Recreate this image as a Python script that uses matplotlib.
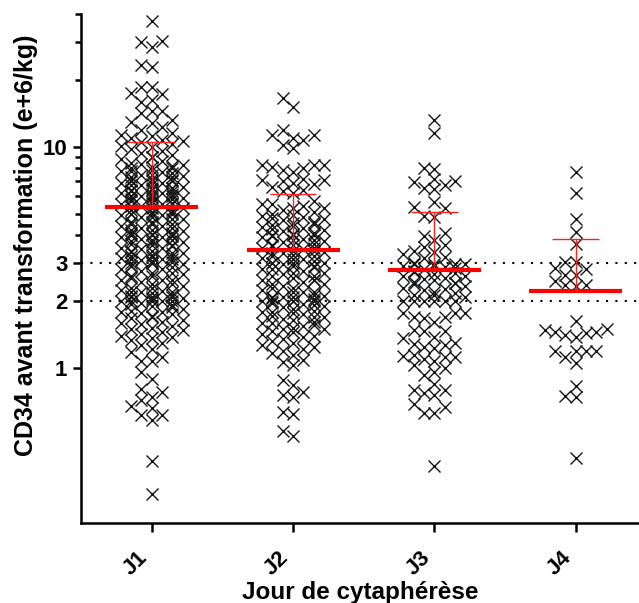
import numpy as np
import matplotlib
matplotlib.use('Agg')
import matplotlib.pyplot as plt
from matplotlib.ticker import FixedLocator, NullFormatter

plt.rcParams['font.family'] = ['Liberation Sans', 'DejaVu Sans']

categories = ['J1', 'J2', 'J3', 'J4']

j1 = [37.3, 30.2, 28.4, 30.0, 23.5, 23.1, 18.7, 18.6, 17.3, 17.5, 16.0, 16.3, 14.5, 14.6, 14.3, 13.2, 13.0, 12.9,
      12.3, 11.9, 11.6, 11.3, 11.0, 10.8, 10.5, 10.3, 10.1, 10.0, 10.6, 11.2,
      9.8, 9.6, 9.4, 9.2, 9.0, 9.0, 8.8, 8.6, 8.5, 8.4, 8.3, 8.2, 8.1, 8.0, 8.0,
      7.9, 7.8, 7.8, 7.7, 7.6, 7.5, 7.5, 7.4, 7.3, 7.3, 7.2, 7.1, 7.1, 7.0, 7.0, 7.0, 6.9, 6.9, 6.8, 6.7, 6.7, 6.6,
      6.5, 6.5, 6.5, 6.4, 6.4, 6.3, 6.3, 6.2, 6.2, 6.1, 6.1, 6.0, 6.0, 6.0, 6.0, 6.0,
      5.9, 5.9, 5.8, 5.8, 5.7, 5.7, 5.6, 5.6, 5.5, 5.5, 5.5, 5.4, 5.4, 5.3, 5.3, 5.2, 5.2, 5.1, 5.1, 5.0, 5.0, 5.0,
      5.0, 4.9, 4.9, 4.8, 4.8, 4.7, 4.7, 4.6, 4.6, 4.5, 4.5, 4.5, 4.4, 4.4, 4.3, 4.3, 4.2, 4.2, 4.1, 4.1, 4.0, 4.0,
      4.0, 4.0, 4.05, 4.15,
      3.95, 3.9, 3.9, 3.85, 3.8, 3.8, 3.75, 3.7, 3.7, 3.65, 3.6, 3.6, 3.55, 3.5, 3.5, 3.45, 3.4, 3.4, 3.35, 3.3, 3.3,
      3.25, 3.2, 3.2, 3.15, 3.1, 3.1, 3.05, 3.0, 3.0, 3.0, 3.02, 3.08, 3.12, 3.18,
      2.95, 2.9, 2.9, 2.85, 2.8, 2.8, 2.75, 2.7, 2.7, 2.65, 2.6, 2.6, 2.55, 2.5, 2.5, 2.5, 2.45, 2.4, 2.4, 2.35, 2.3, 2.3,
      2.25, 2.2, 2.2, 2.2, 2.15, 2.1, 2.1, 2.1, 2.05, 2.0, 2.0, 2.0, 2.0, 2.02, 2.08, 2.12, 2.18, 2.22,
      1.97, 1.95, 1.92, 1.9, 1.88, 1.85, 1.82, 1.8, 1.8, 1.77, 1.75, 1.72, 1.7, 1.68, 1.65, 1.62, 1.6, 1.58, 1.55, 1.52,
      1.5, 1.48, 1.45, 1.42, 1.4, 1.38, 1.36, 1.34, 1.3, 1.27, 1.22, 1.18,
      1.12, 1.08, 1.08, 0.96, 0.89, 0.78, 0.80, 0.72, 0.74, 0.67, 0.66, 0.61, 0.61, 0.58, 0.38, 0.27]

j2 = [16.6, 15.2, 11.9, 11.3, 11.3, 10.96, 10.7, 10.2, 9.87, 8.3, 8.3, 8.27, 8.1, 8.0, 7.9, 7.7,
      7.2, 7.1, 7.1, 7.0, 6.9, 6.8, 6.6, 6.4, 6.3, 6.2,
      5.7, 5.5, 5.4, 5.3, 5.3, 5.2, 5.5, 5.1,
      4.95, 4.9, 4.85, 4.8, 4.75, 4.7, 4.65, 4.6, 4.55, 4.5, 4.45, 4.4, 4.35, 4.3, 4.25, 4.2, 4.15, 4.1, 4.05, 4.0, 4.0, 4.0,
      3.95, 3.9, 3.85, 3.8, 3.8, 3.75, 3.7, 3.65, 3.6, 3.6, 3.55, 3.5, 3.5, 3.45, 3.4, 3.4, 3.35, 3.3, 3.3, 3.25, 3.2, 3.2,
      3.15, 3.1, 3.1, 3.05, 3.0, 3.0, 3.0, 3.0,
      2.95, 2.9, 2.9, 2.85, 2.8, 2.8, 2.75, 2.7, 2.7, 2.65, 2.6, 2.6, 2.55, 2.5, 2.5, 2.5, 2.45, 2.4, 2.4, 2.35, 2.3, 2.3,
      2.25, 2.2, 2.2, 2.2, 2.15, 2.1, 2.1, 2.1, 2.05, 2.0, 2.0, 2.0, 2.0, 2.02, 2.08, 2.12,
      1.97, 1.95, 1.92, 1.9, 1.88, 1.85, 1.82, 1.8, 1.8, 1.77, 1.75, 1.72, 1.7, 1.7, 1.67, 1.65, 1.62, 1.6, 1.6, 1.57,
      1.55, 1.52, 1.5, 1.5, 1.47, 1.45, 1.42, 1.4, 1.38, 1.35, 1.32, 1.3, 1.27, 1.25, 1.22, 1.2, 1.17, 1.15,
      1.07, 1.03, 1.09, 0.88, 0.755, 0.78, 0.84, 0.74, 0.63, 0.62, 0.49, 0.52]

j3 = [13.2, 11.6, 8.0, 7.95, 7.14, 6.97, 7.0, 6.5, 6.43, 6.7, 5.65, 5.28, 5.33, 4.84, 4.87, 4.1, 3.54, 3.96, 3.79,
      3.36, 3.6, 3.28, 3.39, 3.19, 3.14, 2.97, 2.97, 2.97, 3.0, 2.95, 2.9, 2.88, 2.85, 2.82, 2.8, 2.75, 2.72, 2.7,
      2.65, 2.62, 2.6, 2.55, 2.52, 2.5, 2.45, 2.42, 2.42, 2.4, 2.35, 2.3, 2.28, 2.25, 2.21, 2.18, 2.15, 2.15, 2.1,
      2.0, 2.0, 2.0, 2.0, 2.0, 2.0, 1.77, 1.62, 1.71, 1.77, 1.71, 1.68, 1.77, 1.49, 1.47, 1.47, 1.38, 1.27, 1.30,
      1.23, 1.29, 1.25, 1.36, 1.12, 1.03, 1.12, 1.15, 1.10, 1.08, 1.13, 0.96, 1.0, 0.93, 0.85, 0.77, 0.795, 0.755,
      0.795, 0.685, 0.624, 0.624, 0.668, 0.36]

j4 = [7.68, 6.17, 4.72, 4.11, 3.63, 3.01, 2.81, 3.01, 2.83, 2.64, 2.37, 2.35, 2.48, 2.37, 2.64,
      1.64, 1.49, 1.41, 1.46, 1.38, 1.46, 1.44, 1.50, 1.19, 1.19, 1.05, 1.19, 1.12, 1.19, 0.83, 0.75, 0.74, 0.39]

groups = [j1, j2, j3, j4]
means = [5.33, 3.42, 2.78, 2.24]        # red line (mean)
upper = [10.5, 6.11, 5.06, 3.82]        # mean + SD (upper error bar)

W, H = 639, 603
fig = plt.figure(figsize=(W / 100, H / 100), dpi=100)
ax_left, ax_right, ax_top, ax_bottom = 81, W, 13.9, 522.5
ax = fig.add_axes([ax_left / W, (H - ax_bottom) / H, (ax_right - ax_left) / W, (ax_bottom - ax_top) / H])
ax.set_yscale('log')
ylo, yhi = 0.2, 40
ax.set_ylim(ylo, yhi)
ax.set_xlim(0.5, 4.448)

ppd = (ax_bottom - ax_top) / np.log10(yhi / ylo)
ppx = (ax_right - ax_left) / (4.448 - 0.5)


def swarm_offsets(vals, col_px=10.3, maxk=3, sep=10.0):
    vals = np.asarray(vals, dtype=float)
    ypx = np.log10(vals) * ppd
    order = np.argsort(vals, kind='stable')
    cols = {k: [] for k in range(-maxk, maxk + 1)}
    cand = [0] + [s * k for k in range(1, maxk + 1) for s in (-1, 1)]
    fallback = [0, -2, 2, 0, 2, -2]
    nfb = 0
    offs = np.zeros(len(vals))
    for i in order:
        y = ypx[i]
        best = None
        for k in cand:
            d = min([abs(y - yy) for yy in cols[k]], default=1e9)
            if d >= sep:
                best = k
                break
        if best is None:
            best = fallback[nfb % len(fallback)]
            nfb += 1
        cols[best].append(y)
        offs[i] = best * col_px
    return offs / ppx


for gi, vals in enumerate(groups):
    xpos = gi + 1 + swarm_offsets(vals)
    ax.plot(xpos, vals, linestyle='none', marker='x', markersize=8, markeredgewidth=1.0,
            color='#151515', zorder=3)

for gi in range(4):
    x = gi + 1
    ax.hlines(means[gi], x - 0.329, x + 0.329, color='#ff0000', lw=3.0, zorder=5)
    ax.vlines(x, means[gi], upper[gi], color='#ff2020', lw=1.0, zorder=5)
    ax.hlines(upper[gi], x - 0.166, x + 0.166, color='#ff2020', lw=1.0, zorder=5)

for ref in (2, 3):
    ax.axhline(ref, color='black', lw=1.5, linestyle=(0, (1, 3.5)), zorder=2)

for s in ('top', 'right'):
    ax.spines[s].set_visible(False)
for s in ('left', 'bottom'):
    ax.spines[s].set_linewidth(1.8)

ax.yaxis.set_major_locator(FixedLocator([1, 2, 3, 10]))
ax.yaxis.set_minor_locator(FixedLocator([4, 5, 6, 7, 8, 9, 20, 30, 40]))
ax.yaxis.set_minor_formatter(NullFormatter())
ax.set_yticklabels(['1', '2', '3', '10'], fontsize=16, fontweight='bold')
ax.tick_params(axis='y', which='major', length=5.8, width=1.8, pad=4)
ax.tick_params(axis='y', which='minor', length=4.3, width=1.8)

ax.set_xticks([1, 2, 3, 4])
ax.set_xticklabels(categories, fontsize=16, fontweight='bold', rotation=45, ha='right', va='top')
ax.tick_params(axis='x', which='major', length=6.5, width=1.8, pad=11)
ax.tick_params(axis='x', which='minor', bottom=False)

ax.set_xlabel('Jour de cytaphérèse', fontsize=17.5, fontweight='bold', labelpad=1)
ax.set_ylabel('CD34 avant transformation (e+6/kg)', fontsize=18, fontweight='bold')
ax.yaxis.set_label_coords((38 - ax_left) / (ax_right - ax_left), (ax_bottom - 245) / (ax_bottom - ax_top))

fig.savefig('out.png', dpi=100)
